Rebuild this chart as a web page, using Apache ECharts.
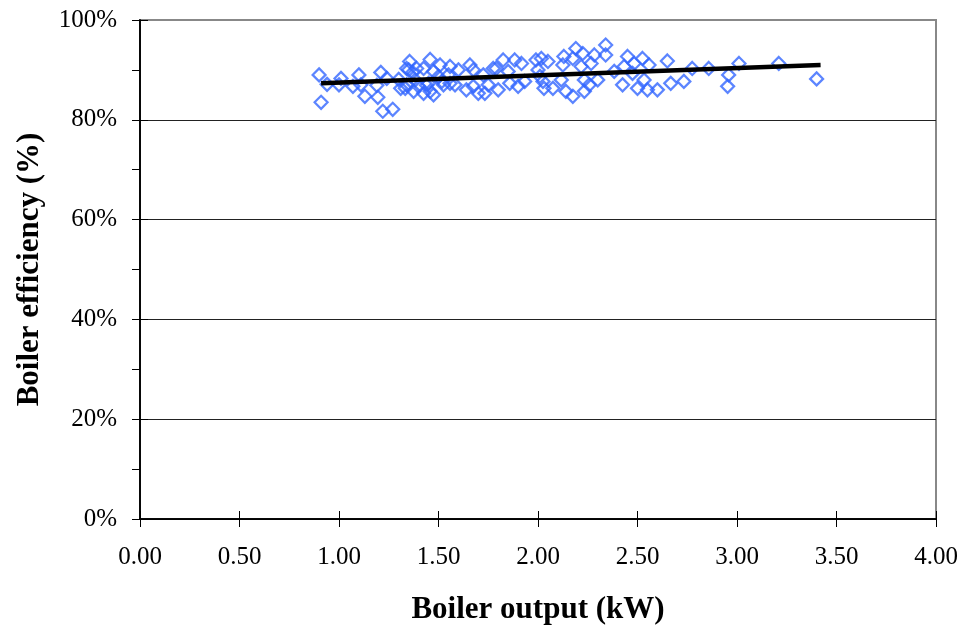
<!DOCTYPE html>
<html>
<head>
<meta charset="utf-8">
<script src="https://cdn.jsdelivr.net/npm/echarts@6/dist/echarts.min.js"></script>
<style>
html,body{margin:0;padding:0;background:#fff;}
#chart{width:957px;height:628px;}
</style>
</head>
<body>
<div id="chart"></div>
<script>
// Boiler output (kW)
const outputKW = [
  0.90,0.94,0.91,1.01,1.00,1.07,1.10,1.11,1.13,1.19,1.21,1.195,1.22,1.27,1.24,1.31,1.30,1.355,1.34,1.37,1.34,1.375,1.40,1.425,1.39,
  1.383,1.333,1.35,1.45,1.475,1.50,
  1.425,1.458,1.475,1.508,1.558,1.55,1.60,1.658,1.675,1.44,1.458,1.525,1.558,1.64,1.675,1.70,1.725,1.75,1.79,1.80,1.825,1.85,1.883,1.917,1.858,1.90,1.933,1.99,2.00,2.025,2.03,
  1.517,1.583,1.733,1.775,
  2.017,2.05,2.01,2.075,2.13,2.125,2.117,2.14,2.175,2.19,2.175,2.217,2.225,2.233,2.267,2.283,2.258,2.233,2.30,2.34,2.34,2.383,2.425,2.433,2.45,2.475,2.483,2.50,2.525,2.533,2.55,2.558,2.60,2.65,2.667,2.733,2.775,2.858,2.958,2.953,3.01,3.21,3.40
];
// Boiler efficiency (%)
const efficiencyPct = [
  89.0,87.1,83.5,88.3,87.0,86.7,89.0,87.0,84.7,86.9,89.5,84.5,81.7,82.1,88.3,86.3,88.1,91.7,90.3,89.5,87.0,85.7,86.7,85.3,90.3,
  88.0,86.3,90.0,87.3,85.0,88.7,
  90.3,92.1,89.7,91.0,90.7,89.0,90.0,91.0,90.0,86.9,85.7,87.0,87.3,86.0,86.7,85.3,89.0,87.0,90.3,86.0,92.0,89.7,92.0,91.3,87.3,86.7,87.7,92.0,90.0,87.7,86.3,
  87.7,87.0,85.3,90.3,
  92.3,91.7,88.7,86.3,92.7,91.0,88.0,85.7,84.7,94.3,92.3,90.7,93.3,88.0,91.3,93.0,87.0,85.7,88.0,95.0,93.0,89.7,87.0,90.7,92.7,89.3,91.3,86.3,92.3,88.0,86.0,91.0,86.0,91.8,87.3,87.7,90.3,90.3,89.0,86.7,91.3,91.3,88.2
];
// Trend line end points
const trendX = [0.91, 3.42];
const trendY = [87.3, 91.0];

const xTicks = { min: 0, max: 4, interval: 0.5 };
const yTicks = { min: 0, max: 100, interval: 20 };

const points = outputKW.map((x, i) => [x, efficiencyPct[i]]);
const trend = trendX.map((x, i) => [x, trendY[i]]);

const FONT = '"Liberation Serif","DejaVu Serif",serif';
const chart = echarts.init(document.getElementById('chart'), null, {renderer: 'canvas'});

const baseX = {
  type: 'value', min: xTicks.min, max: xTicks.max, interval: xTicks.interval,
  position: 'bottom',
  axisLine: {show: true, onZero: false, lineStyle: {color: '#000', width: 1.5}},
  splitLine: {show: false}
};
const baseY = {
  type: 'value', min: yTicks.min, max: yTicks.max, interval: yTicks.interval,
  position: 'left',
  axisLine: {show: true, onZero: false, lineStyle: {color: '#000', width: 1.5}}
};

chart.setOption({
  backgroundColor: '#fff',
  animation: false,
  grid: {left: 140, top: 20, right: 21, bottom: 109, show: true, borderColor: '#888', borderWidth: 2, containLabel: false, outerBoundsMode: 'none'},
  xAxis: [
    Object.assign({}, baseX, {
      name: 'Boiler output (kW)', nameLocation: 'middle', nameGap: 75,
      nameTextStyle: {fontFamily: FONT, fontSize: 31, fontWeight: 'bold', color: '#000'},
      axisTick: {show: true, inside: false, length: 8, lineStyle: {color: '#000', width: 1}},
      axisLabel: {fontFamily: FONT, fontSize: 25, color: '#000', margin: 26, formatter: v => v.toFixed(2)}
    }),
    Object.assign({}, baseX, {
      axisTick: {show: true, inside: true, length: 8, lineStyle: {color: '#000', width: 1}},
      axisLabel: {show: false}
    })
  ],
  yAxis: [
    Object.assign({}, baseY, {
      name: 'Boiler efficiency (%)', nameLocation: 'middle', nameGap: 95,
      nameTextStyle: {fontFamily: FONT, fontSize: 31, fontWeight: 'bold', color: '#000'},
      axisTick: {show: true, inside: false, length: 8, lineStyle: {color: '#000', width: 1}},
      minorTick: {show: true, splitNumber: 2, length: 8, lineStyle: {color: '#000', width: 1}},
      axisLabel: {fontFamily: FONT, fontSize: 25, color: '#000', margin: 23, formatter: '{value}%'},
      splitLine: {show: true, showMaxLine: false, lineStyle: {color: '#222', width: 1}}
    }),
    Object.assign({}, baseY, {
      axisTick: {show: true, inside: true, length: 8, lineStyle: {color: '#000', width: 1}},
      minorTick: {show: false},
      axisLabel: {show: false},
      splitLine: {show: false}
    })
  ],
  series: [
    {
      type: 'scatter', xAxisIndex: 0, yAxisIndex: 0, data: points,
      symbol: 'diamond', symbolSize: [13, 13],
      itemStyle: {color: 'rgba(0,0,0,0)', borderColor: '#3366ff', borderWidth: 2.2},
      z: 3
    },
    {
      type: 'line', xAxisIndex: 0, yAxisIndex: 0, data: trend,
      symbol: 'none', lineStyle: {color: '#000', width: 4.5}, z: 4
    }
  ]
});
</script>
</body>
</html>
